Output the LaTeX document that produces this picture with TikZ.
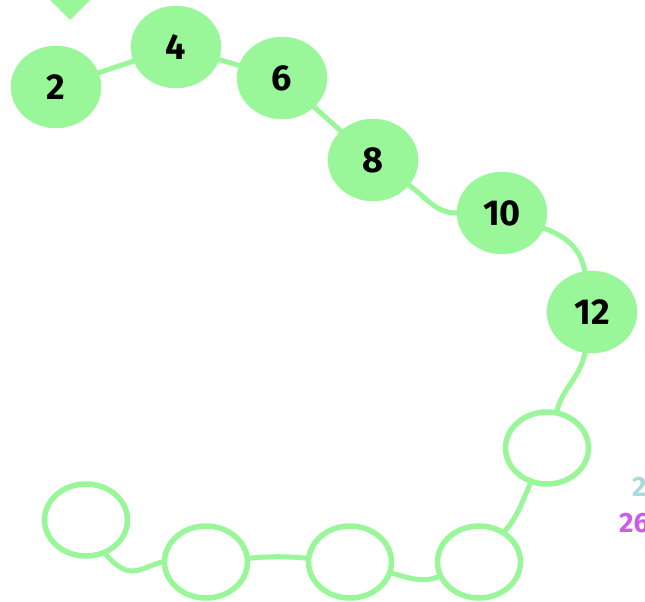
\documentclass[tikz,border=0pt]{standalone}
\usepackage{fontspec}
\setmainfont{Fira Sans}
\usetikzlibrary{shapes.geometric}
\definecolor{mint}{RGB}{153,247,153}
\definecolor{softteal}{RGB}{168,218,220}
\definecolor{violetish}{RGB}{204,93,232}

\begin{document}
\begin{tikzpicture}[x=1pt,y=-1pt]

% node looks
\tikzset{
  full/.style={ellipse, fill=mint, draw=mint, minimum width=90pt, minimum height=82pt, inner sep=0pt, font=\fontsize{36}{36}\selectfont\bfseries},
  hollow/.style={ellipse, draw=mint, line width=5.5pt, minimum width=83pt, minimum height=72pt, inner sep=0pt},
  link/.style={draw=mint, line width=5pt, line cap=round},
  edgetext/.style={font=\fontsize{28}{28}\selectfont\bfseries, anchor=west, inner sep=0pt},
}

\useasboundingbox (0,0) rectangle (645,602);
\clip (0,0) rectangle (645,602);

% ---------------- pieces cut by the frame ----------------
\fill[mint] (70,-30) -- (95,-5) -- (70,20) -- (45,-5) -- cycle;
\node[edgetext, text=softteal] (t2) at (632,487) {2};
\node[edgetext, text=violetish] (t26) at (619,523) {26};

% ---------------- filled chain ----------------
\node[full] (n2) at (56,87) {2};
\node[full] (n4) at (176,47) {4};
\node[full] (n6) at (282,78) {6};
\node[full] (n8) at (373,160) {8};
\node[full] (n10) at (502,213) {10};
\node[full] (n12) at (592,312) {12};

% ---------------- empty chain ----------------
\node[hollow] (e1) at (547,448) {};
\node[hollow] (e2) at (479,562) {};
\node[hollow] (e3) at (350,562) {};
\node[hollow] (e4) at (206,562) {};
\node[hollow] (e5) at (86,520) {};

% ---------------- links ----------------
\draw[link] (n2) -- (n4);
\draw[link] (n4) -- (n6);
\draw[link] (n6) -- (n8);
\draw[link] (n8) to[out=-35,in=180] (n10);
\draw[link] (n10) to[out=-20,in=100] (n12);
\draw[link] (n12) to[out=-100,in=75] (e1);
\draw[link] (e1) to[out=-115,in=50] (e2);
\draw[link] (e2) to[out=-160,in=-15] (e3);
\draw[link] (e3) to[out=175,in=5] (e4);
\draw[link] (e4.west) .. controls (140,568) and (130,582) .. (e5.-60);

\end{tikzpicture}
\end{document}
